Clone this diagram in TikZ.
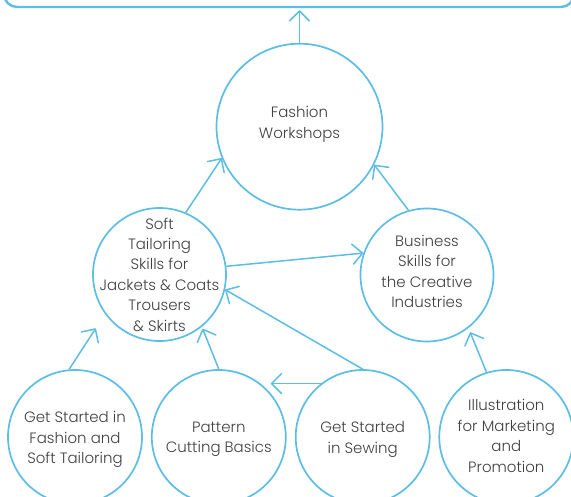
\documentclass[tikz,border=0pt]{standalone}
\usepackage{fontspec}
\IfFontExistsTF{Poppins Light}{\setmainfont{Poppins Light}\newcommand\txtsize{\fontsize{15}{20.4}\selectfont}}{\IfFontExistsTF{Lato Light}{\setmainfont{Lato Light}}{\setmainfont{Lato}}\newcommand\txtsize{\fontsize{17}{20.4}\selectfont}}
\usetikzlibrary{arrows.meta}
\definecolor{lineblue}{HTML}{5CBDE5}
\definecolor{textgray}{HTML}{404040}
\begin{document}
\begin{tikzpicture}[x=1pt,y=1pt,
  circ/.style={circle,draw=lineblue,line width=1.7pt,inner sep=0pt,minimum size=#1},
  txt/.style={align=center,text=textgray,inner sep=0pt,font=\txtsize},
  arr/.style={draw=lineblue,line width=1.5pt,-{Straight Barb[length=10pt,width=20pt,round]}},
  topbox/.style={draw=lineblue,line width=2.4pt,rounded corners=13pt,minimum width=570pt,minimum height=50pt,inner sep=0pt}]
\useasboundingbox (0,0) rectangle (571,-497);
% top container
\node[topbox] (top) at (289,18) {};
% circles
\node[circ=166pt] (fw) at (299.5,-126.7) {};
\node[circ=133pt] (st) at (159.5,-274.5) {};
\node[circ=133pt] (bs) at (427,-275) {};
\node[circ=134pt] (gsf) at (75,-437) {};
\node[circ=134pt] (pat) at (218.8,-437) {};
\node[circ=134pt] (sew) at (362.7,-437) {};
\node[circ=134pt] (ill) at (506.3,-437) {};
% texts
\node[txt] (tfw) at ([yshift=2.5pt]fw.center) {Fashion\\Workshops};
\node[txt] (tst) at (st.center) {Soft\\Tailoring\\Skills for\\Jackets \& Coats\\Trousers\\\& Skirts};
\node[txt] (tbs) at ([yshift=3.5pt]bs.center) {Business\\Skills for\\the Creative\\Industries};
\node[txt] (tgsf) at ([yshift=-2.5pt]gsf.center) {Get Started in\\Fashion and\\Soft Tailoring};
\node[txt] (tpat) at ([yshift=-2.5pt]pat.center) {Pattern\\Cutting Basics};
\node[txt] (tsew) at ([yshift=-2.5pt]sew.center) {Get Started\\in Sewing};
\node[txt] (till) at ([yshift=1pt]ill.center) {Illustration\\for Marketing\\and\\Promotion};
% connectors
\draw[arr,shorten >=2pt] (fw.north) -- (fw.north |- top.south);
\draw[arr] (st.67) -- (fw.202);
\draw[arr] (bs.106) -- (fw.333);
\draw[arr] (st.7) -- (bs.161);
\draw[arr] (sew.90) -- (st.347);
\draw[arr] (sew.128) -- (sew.128 -| pat.40);
\draw[arr,shorten >=2pt] (pat.90) -- (st.309);
\draw[arr,shorten >=17pt] (gsf.95) -- (st.216);
\draw[arr,shorten >=4.5pt] (ill.107) -- (bs.308);
\end{tikzpicture}
\end{document}
